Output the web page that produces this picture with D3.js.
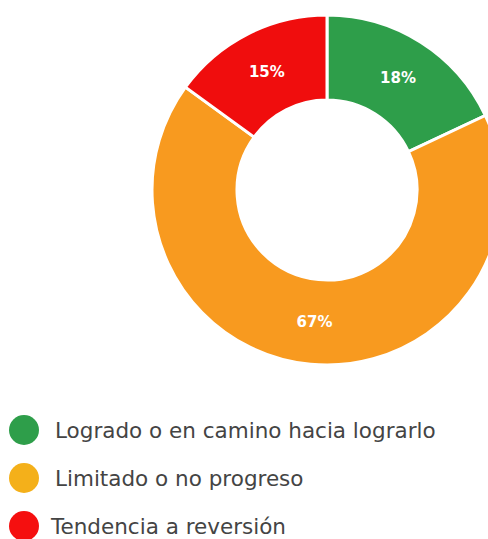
<!DOCTYPE html>
<html>
<head>
<meta charset="utf-8">
<script src="https://cdn.jsdelivr.net/npm/d3@7"></script>
<style>
  body { margin: 0; background: #fff; }
</style>
</head>
<body>
<div id="chart"></div>
<script>
"use strict";

// data
let categories = ["Logrado o en camino hacia lograrlo", "Limitado o no progreso", "Tendencia a reversión"];
let values = [18, 67, 15];
let sliceColors = ["#2e9e4a", "#f89a1f", "#f00d0d"];
let legendColors = ["#2e9e4a", "#f4b01a", "#f50f0f"];

let svgWidth = 488;
let svgHeight = 539;

let svg = d3.select("#chart")
    .append("svg")
    .attr("width", svgWidth)
    .attr("height", svgHeight);

let cx = 327;
let cy = 190;
let outerR = 175;
let innerR = 90;

let pie = d3.pie().sort(null).value(d => d);
let arc = d3.arc().innerRadius(innerR).outerRadius(outerR);

let g = svg.append("g").attr("transform", `translate(${cx},${cy})`);

let arcs = pie(values);

g.selectAll("path")
    .data(arcs)
    .enter()
    .append("path")
    .attr("d", arc)
    .attr("fill", (d, i) => sliceColors[i])
    .attr("stroke", "#fff")
    .attr("stroke-width", 3);

// percentage labels
g.selectAll("text")
    .data(arcs)
    .enter()
    .append("text")
    .attr("transform", d => `translate(${arc.centroid(d)})`)
    .attr("text-anchor", "middle")
    .attr("dy", "0.35em")
    .attr("fill", "#fff")
    .attr("font-family", "'DejaVu Sans', sans-serif")
    .attr("font-weight", "bold")
    .attr("font-size", "15px")
    .text(d => d.data + "%");

// legend
let legendY = d3.scalePoint()
    .domain(categories)
    .range([430, 526]);

let legend = svg.selectAll(".legend")
    .data(categories)
    .enter()
    .append("g")
    .attr("class", "legend")
    .attr("transform", d => `translate(0,${legendY(d)})`);

legend.append("circle")
    .attr("cx", 24)
    .attr("cy", 0)
    .attr("r", 15)
    .attr("fill", (d, i) => legendColors[i]);

legend.append("text")
    .attr("x", (d, i) => i === 2 ? 51 : 55)
    .attr("y", 0)
    .attr("dy", "0.35em")
    .attr("fill", "#444")
    .attr("font-family", "'DejaVu Sans', sans-serif")
    .attr("font-size", "21.5px")
    .text(d => d);
</script>
</body>
</html>
